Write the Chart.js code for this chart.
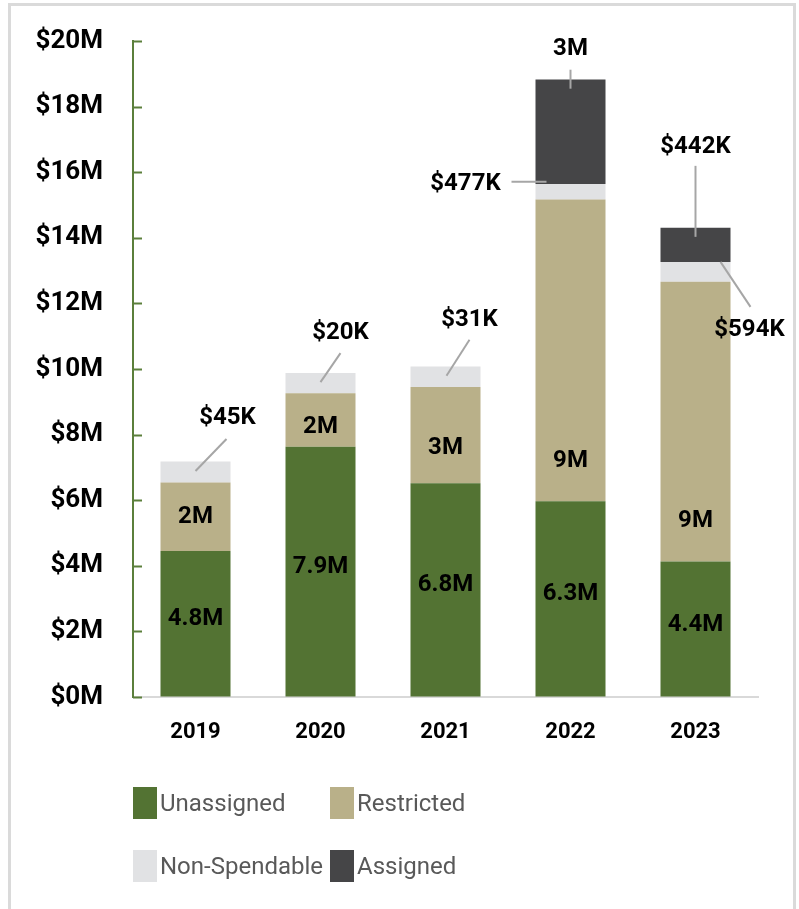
<!DOCTYPE html>
<html>
<head>
<meta charset="utf-8">
<script src="https://cdn.jsdelivr.net/npm/chart.js@4.4.1/dist/chart.umd.min.js"></script>
<style>
  html, body { margin: 0; padding: 0; background: #fff; }
  #wrap  { position: relative; width: 799px; height: 909px; overflow: hidden; }
  #frame { position: absolute; left: 8px; top: 3px; width: 782px; height: 940px;
           border: 3px solid #dadada; border-bottom: none; }
  canvas { position: absolute; left: 0; top: 0; }
  #legend { position: absolute; left: 133px; top: 787px; display: grid;
            grid-template-columns: 197px 200px; row-gap: 31px;
            font: 24px Roboto, sans-serif; color: #595959; }
  .item { display: flex; align-items: center; height: 32px; white-space: nowrap; }
  .box  { width: 24px; height: 32px; margin-right: 3px; flex: none; }
</style>
</head>
<body>
<div id="wrap">
  <div id="frame"></div>
  <canvas id="chart" width="799" height="909"></canvas>
  <div id="legend"></div>
</div>

<script>
/* ── data ($M) ───────────────────────────────────────── */
const years        = ['2019', '2020', '2021', '2022', '2023'];
const unassigned   = [4.45, 7.63, 6.52, 5.97, 4.13];
const restricted   = [2.09, 1.63, 2.93, 9.20, 8.53];
const nonSpendable = [0.64, 0.62, 0.63, 0.47, 0.60];
const assigned     = [0, 0, 0, 3.19, 1.05];

/* label texts as printed on the chart */
const unassignedText   = ['4.8M', '7.9M', '6.8M', '6.3M', '4.4M'];
const restrictedText   = ['2M', '2M', '3M', '9M', '9M'];
const nonSpendableText = ['$45K', '$20K', '$31K', '$477K', '$594K'];
const assignedText     = ['', '', '', '3M', '$442K'];

const yMax  = 20;
const yStep = 2;

const GREEN = '#537333', TAN = '#B9B089', LIGHT = '#E1E2E4', DARK = '#454547';
const AXIS_GREEN = '#5B7F3B';
const BOLD = 'bold 24px Roboto, sans-serif';

/* ── inside tick marks on the y axis ─────────────────── */
const insideTicks = {
  id: 'insideTicks',
  afterDraw(chart) {
    const { ctx, scales: { y } } = chart;
    ctx.save();
    ctx.strokeStyle = AXIS_GREEN;
    ctx.lineWidth = 2;
    y.ticks.forEach(t => {
      const py = Math.round(y.getPixelForValue(t.value)) + 0.5;
      ctx.beginPath();
      ctx.moveTo(y.right, py);
      ctx.lineTo(y.right + 9, py);
      ctx.stroke();
    });
    ctx.restore();
  }
};

/* ── segment labels + callouts with leader lines ─────── */
const segLabels = {
  id: 'segLabels',
  afterDatasetsDraw(chart, args, opts) {
    const { ctx } = chart;
    const centre = (ds, i) => {
      const bar = chart.getDatasetMeta(ds).data[i];
      return { x: bar.x, y: (bar.y + bar.base) / 2 };
    };
    ctx.save();
    ctx.font = BOLD;
    ctx.fillStyle = '#000';
    ctx.textAlign = 'center';
    ctx.textBaseline = 'middle';

    opts.inner.forEach(({ ds, texts, shift }) => {
      texts.forEach((t, i) => {
        if (!t) return;
        const c = centre(ds, i);
        ctx.fillText(t, c.x, c.y + shift[i]);
      });
    });

    ctx.strokeStyle = '#A6A6A6';
    ctx.lineWidth = 2;
    opts.callouts.forEach(({ ds, i, texts, line, text }) => {
      const c = centre(ds, i);
      ctx.beginPath();
      ctx.moveTo(c.x + line[0], c.y + line[1]);
      ctx.lineTo(c.x + line[2], c.y + line[3]);
      ctx.stroke();
      ctx.fillText(texts[i], c.x + text[0], c.y + text[1]);
    });
    ctx.restore();
  }
};

function draw () {
  const chart = new Chart(document.getElementById('chart'), {
    type: 'bar',
    data: {
      labels: years,
      datasets: [
        { label: 'Unassigned',    data: unassigned,   backgroundColor: GREEN },
        { label: 'Restricted',    data: restricted,   backgroundColor: TAN },
        { label: 'Non-Spendable', data: nonSpendable, backgroundColor: LIGHT },
        { label: 'Assigned',      data: assigned,     backgroundColor: DARK }
      ]
    },
    options: {
      responsive: false,
      animation: false,
      datasets: { bar: { categoryPercentage: 1, barPercentage: 0.56, borderWidth: 0 } },
      layout: { padding: { left: 8, right: 41, top: 41, bottom: 164 } },
      plugins: {
        legend: { display: false },
        tooltip: { enabled: false },
        segLabels: {
          inner: [
            { ds: 0, texts: unassignedText, shift: [-5, -5, -5, -5, -4] },
            { ds: 1, texts: restrictedText, shift: [0, 7, 13, 111, 99] }
          ],
          callouts: [
            { ds: 2, i: 0, texts: nonSpendableText, line: [0, -1, 31, -33],   text: [32, -54] },
            { ds: 2, i: 1, texts: nonSpendableText, line: [0, -1, 20, -30],   text: [20, -50] },
            { ds: 2, i: 2, texts: nonSpendableText, line: [1, -1, 24, -37],   text: [24, -57] },
            { ds: 2, i: 3, texts: nonSpendableText, line: [-24, -10, -59, -10], text: [-105, -8] },
            { ds: 3, i: 3, texts: assignedText,     line: [0, -43, 0, -62],   text: [0, -83] },
            { ds: 3, i: 4, texts: assignedText,     line: [0, -8, 0, -79],    text: [0, -98] },
            { ds: 2, i: 4, texts: nonSpendableText, line: [25, -10, 55, 35],  text: [54, 58] }
          ]
        }
      },
      scales: {
        x: {
          stacked: true,
          grid: { display: false, drawTicks: false },
          border: { display: true, color: '#D9D9D9', width: 2 },
          ticks: { color: '#000', padding: 22, font: { family: 'Roboto', weight: 'bold', size: 22 } },
          afterFit: s => { s.height = 48; }
        },
        y: {
          stacked: true,
          min: 0,
          max: yMax,
          /* invisible outside tick marks only make room for the labels */
          grid: { display: true, drawOnChartArea: false, drawTicks: true, tickLength: 28,
                  color: 'rgba(0,0,0,0)' },
          border: { display: true, color: AXIS_GREEN, width: 2 },
          ticks: {
            stepSize: yStep,
            padding: 2,
            color: '#000',
            font: { family: 'Roboto', weight: 'bold', size: 26 },
            callback: v => `$${v}M`
          },
          afterFit: s => { s.width = 125; }
        }
      }
    },
    plugins: [insideTicks, segLabels]
  });

  document.getElementById('legend').innerHTML = chart.data.datasets.map(d =>
    `<div class="item"><span class="box" style="background:${d.backgroundColor}"></span>${d.label}</div>`
  ).join('');
}

Promise.all([
  document.fonts.load('bold 24px Roboto'),
  document.fonts.load('24px Roboto')
]).then(draw, draw);
</script>
</body>
</html>
